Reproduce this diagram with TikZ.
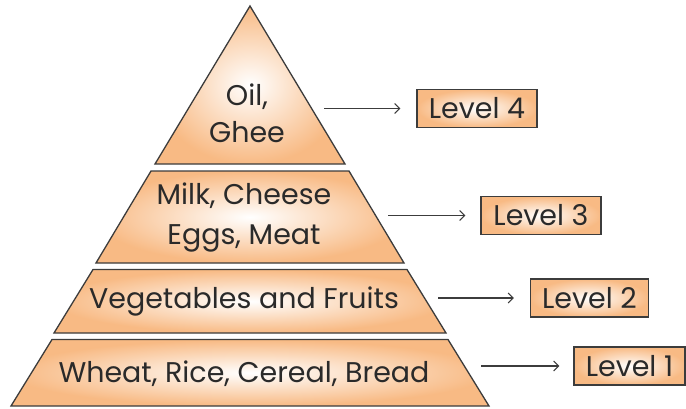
\documentclass[tikz,border=0pt]{standalone}
\usepackage{fontspec}
\setmainfont{Poppins}
\usetikzlibrary{arrows.meta}
\definecolor{peach}{HTML}{F8BA84}
\definecolor{ink}{HTML}{2A2A2A}
\definecolor{edge}{HTML}{3C3C3C}
\begin{document}
\begin{tikzpicture}[x=1pt,y=-1pt,
  layer/.style={draw=edge, line width=1.3pt, shading=radial, inner color=white, outer color=peach},
  lbl/.style={font=\fontsize{28.5}{34}\selectfont, text=ink, align=center, inner sep=0pt},
  lvl/.style={draw=edge, line width=1.1pt, shading=radial, inner color=white, outer color=peach,
    minimum width=120pt, minimum height=38pt, inner sep=0pt, font=\fontsize{28.5}{34}\selectfont, text=ink},
  arr/.style={draw=edge, line width=1.1pt, -{Straight Barb[length=5pt,width=10pt]}}]
\useasboundingbox (0,0) rectangle (686,408);
% pyramid layers
\path[layer] (250,6) -- (345,164) -- (155,164) -- cycle;
\path[layer] (151,171) -- (349,171) -- (404,263) -- (96,263) -- cycle;
\path[layer] (93,269.5) -- (407,269.5) -- (446,333) -- (54,333) -- cycle;
\path[layer] (52,339.5) -- (448,339.5) -- (489,406) -- (11,406) -- cycle;
% layer texts
\node[lbl, font=\fontsize{28.5}{37}\selectfont] (t4) at (247,113) {Oil,\\Ghee};
\node[lbl, font=\fontsize{28.5}{40}\selectfont] (t3) at (244,217) {Milk, Cheese\\Eggs, Meat};
\node[lbl] (t2) at (244,301) {Vegetables and Fruits};
\node[lbl] (t1) at (244,374) {Wheat, Rice, Cereal, Bread};
% level boxes
\node[lvl] (L4) at (477,108.5) {Level 4};
\node[lvl] (L3) at (541,215.5) {Level 3};
\node[lvl, minimum width=118pt] (L2) at (589.5,298) {Level 2};
\node[lvl, minimum width=111pt] (L1) at (629.5,366) {Level 1};
% arrows
\coordinate (a4) at (324,108.5);
\coordinate (a3) at (388,215.5);
\coordinate (a2) at (438,298);
\coordinate (a1) at (481,366);
\draw[arr, shorten >=16pt] (a4) -- (L4.west);
\draw[arr, shorten >=15pt] (a3) -- (L3.west);
\draw[arr, shorten >=16pt] (a2) -- (L2.west);
\draw[arr, shorten >=14pt] (a1) -- (L1.west);
\end{tikzpicture}
\end{document}
